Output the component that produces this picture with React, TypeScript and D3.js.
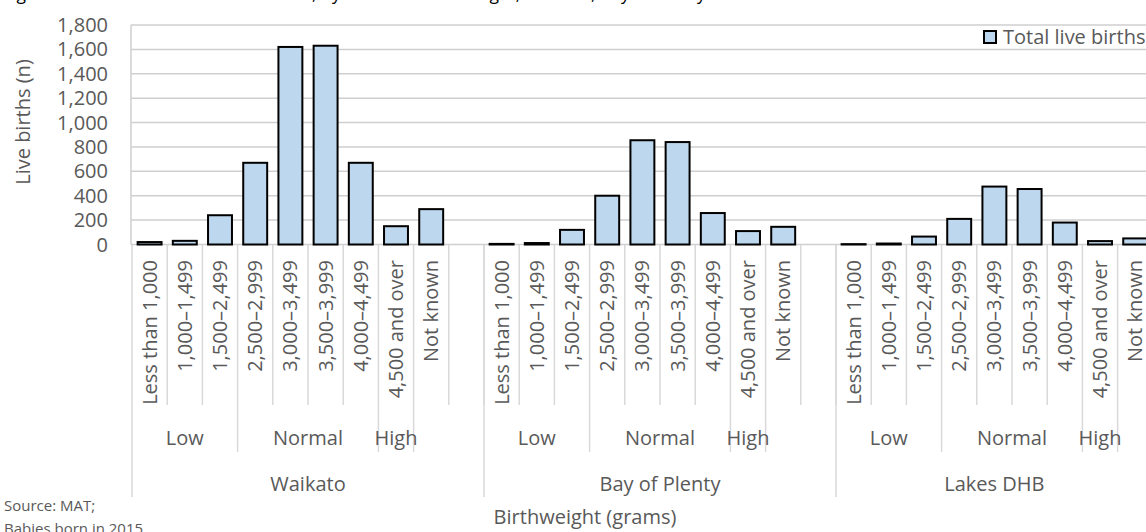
import React, { useEffect, useRef } from 'react';
import * as d3 from 'd3';

// birthweight bands (level 1 of the category axis)
const weightBands = [
    'Less than 1,000', '1,000–1,499', '1,500–2,499', '2,500–2,999',
    '3,000–3,499', '3,500–3,999', '4,000–4,499', '4,500 and over', 'Not known',
];
// level 2 groups: label, first band index, band count
const weightClasses: [string, number, number][] = [
    ['Low', 0, 3],
    ['Normal', 3, 4],
    ['High', 7, 1],
];
const districts = ['Waikato', 'Bay of Plenty', 'Lakes DHB'];

const waikato = [20, 30, 240, 670, 1620, 1630, 670, 150, 290];
const bayOfPlenty = [5, 12, 120, 400, 855, 840, 258, 110, 145];
const lakes = [3, 8, 65, 210, 475, 455, 180, 28, 50];
const seriesByDistrict = [waikato, bayOfPlenty, lakes];

const yTicks = [0, 200, 400, 600, 800, 1000, 1200, 1400, 1600, 1800];

const FONT = '"Open Sans", "Noto Sans", sans-serif';
const TEXT = '#595959';
const GRID = '#cfcfcf';
const DIVIDER = '#d9d9d9';
const FS = '20px';

const App: React.FC = () => {
    const svgRef = useRef<SVGSVGElement>(null);

    useEffect(() => {
        document.body.style.margin = '0';
        if (!svgRef.current) return;

        const svg = d3.select(svgRef.current);
        svg.selectAll('*').remove();

        // one slot per band, plus an empty slot between districts
        const slots: { key: string; d: number; b: number }[] = [];
        districts.forEach((_, d) => {
            weightBands.forEach((_, b) => slots.push({ key: `${d}|${b}`, d, b }));
            if (d < districts.length - 1) slots.push({ key: `${d}|gap`, d, b: -1 });
        });

        const left = 132;
        const step = 35.2;
        const x = d3.scaleBand<string>()
            .domain(slots.map(s => s.key))
            .range([left, left + step * slots.length])
            .paddingInner(0.32)
            .paddingOuter(0.16);
        const right = left + step * slots.length;

        const y = d3.scaleLinear().domain([0, 1800]).range([244.5, 25]);

        // title (cut off at the top of the picture, only descenders show)
        svg.append('text')
            .attr('x', 3)
            .attr('y', -0.5)
            .attr('fill', '#000')
            .style('font-family', FONT)
            .style('font-size', '17.5px')
            .text('Figure 12: Live births in Midland DHBs, by DHB and birthweight, Waikato, Bay of Plenty and Lakes DHB');

        // gridlines
        svg.append('g')
            .selectAll('line')
            .data(yTicks)
            .enter()
            .append('line')
            .attr('x1', left - 1)
            .attr('x2', right)
            .attr('y1', d => y(d))
            .attr('y2', d => y(d))
            .attr('stroke', GRID)
            .attr('stroke-width', 1.5);

        // value axis line
        svg.append('line')
            .attr('x1', left - 1).attr('x2', left - 1)
            .attr('y1', y(1800)).attr('y2', y(0))
            .attr('stroke', GRID)
            .attr('stroke-width', 1.5);

        // y tick labels
        svg.append('g')
            .selectAll('text')
            .data(yTicks)
            .enter()
            .append('text')
            .attr('x', 108)
            .attr('y', d => y(d))
            .attr('dy', '0.35em')
            .attr('text-anchor', 'end')
            .attr('fill', TEXT)
            .style('font-family', FONT)
            .style('font-size', FS)
            .text(d => d3.format(',')(d));

        svg.append('text')
            .attr('transform', 'translate(30,122) rotate(-90)')
            .attr('text-anchor', 'middle')
            .attr('fill', TEXT)
            .style('font-family', FONT)
            .style('font-size', FS)
            .text('Live births (n)');

        // bars
        const barSlots = slots.filter(s => s.b >= 0);
        svg.append('g')
            .selectAll('rect')
            .data(barSlots)
            .enter()
            .append('rect')
            .attr('x', s => x(s.key)!)
            .attr('width', x.bandwidth())
            .attr('y', s => y(seriesByDistrict[s.d][s.b]))
            .attr('height', s => y(0) - y(seriesByDistrict[s.d][s.b]))
            .attr('fill', '#bdd7ee')
            .attr('stroke', '#000')
            .attr('stroke-width', 2);

        // multi-level category axis
        const axis = svg.append('g');
        const groupStart = (d: number) => left + step * d * 10;
        const lvl1Bottom = 405;
        const lvl2Bottom = 452;
        const lvl3Bottom = 497;

        districts.forEach((name, d) => {
            const s0 = groupStart(d);
            const nSlots = d < districts.length - 1 ? 10 : 9;

            // group divider
            axis.append('line')
                .attr('x1', s0).attr('x2', s0)
                .attr('y1', 245).attr('y2', lvl3Bottom)
                .attr('stroke', DIVIDER).attr('stroke-width', 1.5);

            // band dividers
            for (let i = 1; i <= nSlots; i++) {
                const isClass = i === 3 || i === 7 || i === 8;
                axis.append('line')
                    .attr('x1', s0 + i * step).attr('x2', s0 + i * step)
                    .attr('y1', 245).attr('y2', isClass ? lvl2Bottom : lvl1Bottom)
                    .attr('stroke', DIVIDER).attr('stroke-width', 1.5);
            }

            // rotated band labels
            weightBands.forEach((band, b) => {
                const cx = x(`${d}|${b}`)! + x.bandwidth() / 2;
                axis.append('text')
                    .attr('transform', `translate(${cx + 7},260) rotate(-90)`)
                    .attr('text-anchor', 'end')
                    .attr('fill', TEXT)
                    .style('font-family', FONT)
                    .style('font-size', FS)
                    .text(band);
            });

            // class labels
            weightClasses.forEach(([label, first, count]) => {
                axis.append('text')
                    .attr('x', s0 + (first + count / 2) * step)
                    .attr('y', 445)
                    .attr('text-anchor', 'middle')
                    .attr('fill', TEXT)
                    .style('font-family', FONT)
                    .style('font-size', FS)
                    .text(label);
            });

            // district label
            axis.append('text')
                .attr('x', s0 + (nSlots * step) / 2)
                .attr('y', 491)
                .attr('text-anchor', 'middle')
                .attr('fill', TEXT)
                .style('font-family', FONT)
                .style('font-size', FS)
                .text(name);
        });

        // axis title
        svg.append('text')
            .attr('x', 585)
            .attr('y', 524)
            .attr('text-anchor', 'middle')
            .attr('fill', TEXT)
            .style('font-family', FONT)
            .style('font-size', FS)
            .text('Birthweight (grams)');

        // source note
        const note = svg.append('text')
            .attr('fill', TEXT)
            .style('font-family', FONT)
            .style('font-size', '15px');
        note.append('tspan').attr('x', 4).attr('y', 511).text('Source: MAT;');
        note.append('tspan').attr('x', 4).attr('y', 534).text('Babies born in 2015');

        // legend
        const legend = svg.append('g').attr('transform', 'translate(984,31)');
        legend.append('rect')
            .attr('width', 12)
            .attr('height', 12)
            .attr('fill', '#bdd7ee')
            .attr('stroke', '#000')
            .attr('stroke-width', 2);
        legend.append('text')
            .attr('x', 19)
            .attr('y', 13)
            .attr('fill', TEXT)
            .style('font-family', FONT)
            .style('font-size', FS)
            .text('Total live births');
    }, []);

    return (
        <svg ref={svgRef} width={1146} height={532} style={{ display: 'block', background: '#fff' }} />
    );
};

export default App;
